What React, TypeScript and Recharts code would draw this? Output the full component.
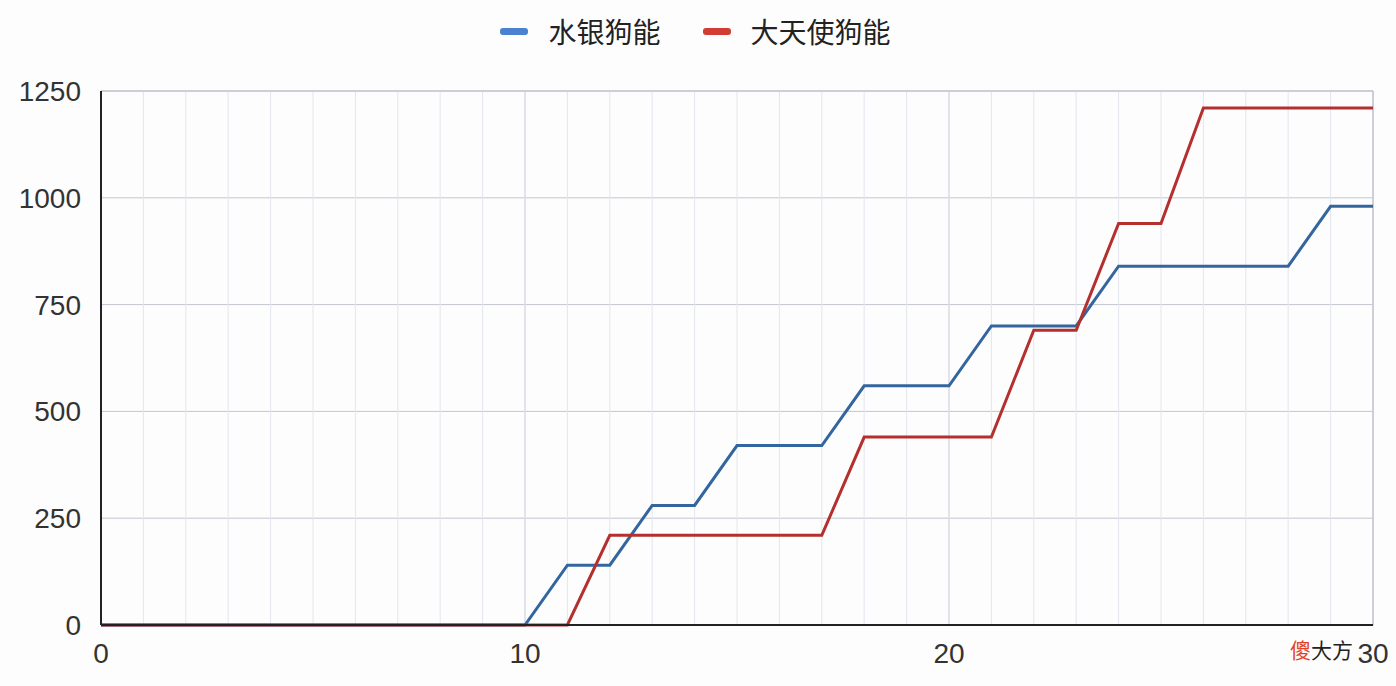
import React from "react";
import {
  LineChart,
  Line,
  XAxis,
  YAxis,
  CartesianGrid,
  Legend,
  ReferenceLine,
} from "recharts";

const steps = [
  0, 1, 2, 3, 4, 5, 6, 7, 8, 9, 10, 11, 12, 13, 14, 15, 16, 17, 18, 19, 20,
  21, 22, 23, 24, 25, 26, 27, 28, 29, 30,
];
const mercury = [
  0, 0, 0, 0, 0, 0, 0, 0, 0, 0, 0, 140, 140, 280, 280, 420, 420, 420, 560,
  560, 560, 700, 700, 700, 840, 840, 840, 840, 840, 980, 980,
];
const archangel = [
  0, 0, 0, 0, 0, 0, 0, 0, 0, 0, 0, 0, 210, 210, 210, 210, 210, 210, 440, 440,
  440, 440, 690, 690, 940, 940, 1210, 1210, 1210, 1210, 1210,
];
const xTicks = [0, 10, 20, 30];
const yTicks = [0, 250, 500, 750, 1000, 1250];

const data = steps.map((s, i) => ({
  step: s,
  mercury: mercury[i],
  archangel: archangel[i],
}));

const series = [
  { key: "mercury", name: "水银狗能", color: "#33659f", icon: "#4a82d0" },
  { key: "archangel", name: "大天使狗能", color: "#b3302e", icon: "#d23c34" },
];

const FONT = "'Noto Sans CJK SC', 'Noto Sans', sans-serif";
const TICK_FONT = "'Liberation Sans', Arial, sans-serif";

const LegendContent = () => (
  <div
    style={{
      display: "flex",
      justifyContent: "center",
      alignItems: "center",
      height: 40,
      paddingLeft: 18,
      fontFamily: FONT,
      fontSize: 28,
      color: "#222",
    }}
  >
    {series.map((s) => (
      <div
        key={s.key}
        style={{ display: "flex", alignItems: "center", margin: "0 21px" }}
      >
        <span
          style={{
            display: "inline-block",
            width: 28,
            height: 7,
            borderRadius: 3,
            background: s.icon,
            marginRight: 20,
          }}
        />
        <span>{s.name}</span>
      </div>
    ))}
  </div>
);

export default function App() {
  return (
    <div
      style={{
        position: "absolute",
        left: 0,
        top: 0,
        width: 1396,
        height: 686,
        background: "#fdfdfd",
      }}
    >
      <LineChart
        width={1396}
        height={686}
        data={data}
        margin={{ top: 51, right: 23, left: 0, bottom: 0 }}
      >
        <Legend
          verticalAlign="top"
          align="center"
          content={<LegendContent />}
          wrapperStyle={{ top: 11 }}
        />
        {steps.map((s) => (
          <ReferenceLine key={s} x={s} stroke="#e4e6ee" strokeWidth={1} />
        ))}
        <CartesianGrid stroke="#c4c6d0" vertical={true} />
        <ReferenceLine y={1250} stroke="#b8bac4" />
        <ReferenceLine x={30} stroke="#b8bac4" />
        <XAxis
          dataKey="step"
          type="number"
          domain={[0, 30]}
          ticks={xTicks}
          height={61}
          axisLine={{ stroke: "#222", strokeWidth: 2 }}
          tickLine={false}
          tick={{ fill: "#333", fontSize: 28, fontFamily: TICK_FONT }}
          tickMargin={12}
        />
        <YAxis
          type="number"
          domain={[0, 1250]}
          ticks={yTicks}
          width={101}
          axisLine={{ stroke: "#222", strokeWidth: 2 }}
          tickLine={false}
          tick={{ fill: "#333", fontSize: 28, fontFamily: TICK_FONT }}
          tickMargin={14}
        />
        {series.map((s) => (
          <Line
            key={s.key}
            type="linear"
            dataKey={s.key}
            name={s.name}
            stroke={s.color}
            strokeWidth={3}
            dot={false}
            activeDot={false}
            isAnimationActive={false}
          />
        ))}
      </LineChart>
      <div
        style={{
          position: "absolute",
          left: 1290,
          top: 635,
          fontFamily: FONT,
          fontSize: 21,
          lineHeight: "28px",
        }}
      >
        <span style={{ color: "#e0452a" }}>傻</span>
        <span style={{ color: "#222" }}>大方</span>
      </div>
    </div>
  );
}
